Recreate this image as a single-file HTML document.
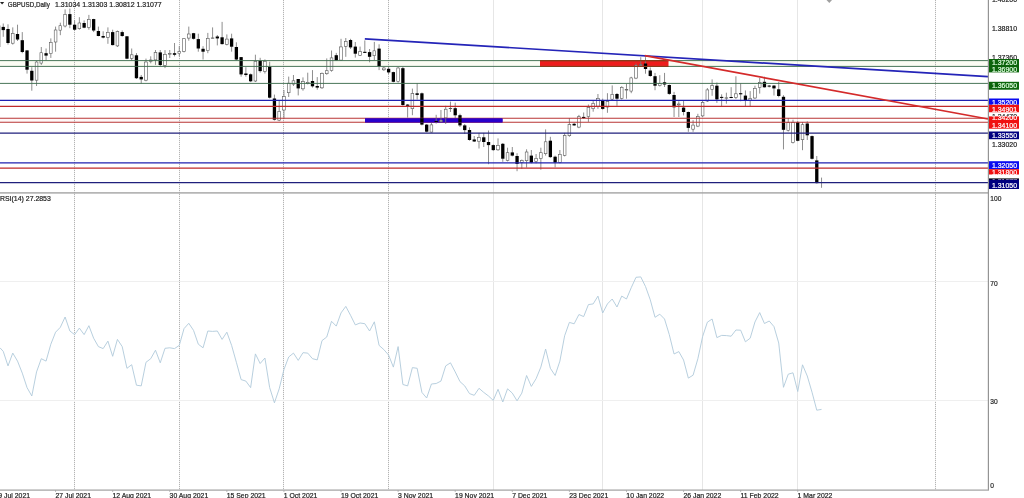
<!DOCTYPE html><html><head><meta charset="utf-8"><style>html,body{margin:0;padding:0;background:#fff;width:1024px;height:498px;overflow:hidden}svg{display:block;will-change:transform}text{font-family:"Liberation Sans",sans-serif}</style></head><body>
<div id="wrap">
<svg width="1024" height="498" viewBox="0 0 1024 498">
<rect width="1024" height="498" fill="#fff"/>
<rect x="0" y="61" width="988" height="5" fill="#fbfcf3"/>
<rect x="0" y="118.5" width="365" height="3.5" fill="#fef7f7"/>
<line x1="74.5" y1="0" x2="74.5" y2="490" stroke="#b4b4b4" stroke-width="1" stroke-dasharray="1.2 0.8"/>
<line x1="179.5" y1="0" x2="179.5" y2="490" stroke="#b4b4b4" stroke-width="1" stroke-dasharray="1.2 0.8"/>
<line x1="283.5" y1="0" x2="283.5" y2="490" stroke="#b4b4b4" stroke-width="1" stroke-dasharray="1.2 0.8"/>
<line x1="388.5" y1="0" x2="388.5" y2="490" stroke="#b4b4b4" stroke-width="1" stroke-dasharray="1.2 0.8"/>
<line x1="493.5" y1="0" x2="493.5" y2="490" stroke="#e6e6e6" stroke-width="1"/>
<line x1="602.5" y1="0" x2="602.5" y2="490" stroke="#e6e6e6" stroke-width="1"/>
<line x1="702.5" y1="0" x2="702.5" y2="490" stroke="#e6e6e6" stroke-width="1"/>
<line x1="797.5" y1="0" x2="797.5" y2="490" stroke="#e6e6e6" stroke-width="1"/>
<line x1="935.5" y1="0" x2="935.5" y2="490" stroke="#b4b4b4" stroke-width="1" stroke-dasharray="1.2 0.8"/>
<line x1="0" y1="281.5" x2="988" y2="281.5" stroke="#efefef" stroke-width="1"/>
<line x1="0" y1="400.5" x2="988" y2="400.5" stroke="#efefef" stroke-width="1"/>
<rect x="540" y="60.6" width="128.5" height="5.8" fill="#ee1c1c"/>
<rect x="365" y="118.3" width="137.5" height="4.2" fill="#2800cc"/>
<g>
<line x1="0.4" y1="25.5" x2="0.4" y2="47" stroke="#bbb" stroke-width="0.9"/>
<line x1="3.25" y1="23.5" x2="3.25" y2="36.8" stroke="#7a7a7a" stroke-width="0.85"/>
<rect x="1.60" y="26.9" width="3.3" height="3.20" fill="#000"/>
<line x1="8.01" y1="24.3" x2="8.01" y2="44.6" stroke="#7a7a7a" stroke-width="0.85"/>
<rect x="6.36" y="29.0" width="3.3" height="14.00" fill="#000"/>
<line x1="12.77" y1="27.4" x2="12.77" y2="44.6" stroke="#7a7a7a" stroke-width="0.85"/>
<rect x="11.42" y="33.50" width="2.7" height="9.70" fill="#fff" stroke="#585858" stroke-width="0.6"/>
<line x1="17.52" y1="24.7" x2="17.52" y2="41.0" stroke="#7a7a7a" stroke-width="0.85"/>
<rect x="15.87" y="34.0" width="3.3" height="5.50" fill="#000"/>
<line x1="22.28" y1="32.1" x2="22.28" y2="53.2" stroke="#7a7a7a" stroke-width="0.85"/>
<rect x="20.63" y="40.2" width="3.3" height="11.80" fill="#000"/>
<line x1="27.04" y1="50.1" x2="27.04" y2="73.6" stroke="#7a7a7a" stroke-width="0.85"/>
<rect x="25.39" y="50.4" width="3.3" height="19.30" fill="#000"/>
<line x1="31.80" y1="67.2" x2="31.80" y2="90.7" stroke="#7a7a7a" stroke-width="0.85"/>
<rect x="30.15" y="70.8" width="3.3" height="9.70" fill="#000"/>
<line x1="36.55" y1="61.0" x2="36.55" y2="86.0" stroke="#7a7a7a" stroke-width="0.85"/>
<rect x="35.20" y="62.00" width="2.7" height="18.20" fill="#fff" stroke="#585858" stroke-width="0.6"/>
<line x1="41.31" y1="47.0" x2="41.31" y2="64.9" stroke="#7a7a7a" stroke-width="0.85"/>
<rect x="39.96" y="52.70" width="2.7" height="10.40" fill="#fff" stroke="#585858" stroke-width="0.6"/>
<line x1="46.07" y1="48.5" x2="46.07" y2="60.3" stroke="#7a7a7a" stroke-width="0.85"/>
<rect x="44.42" y="53.2" width="3.3" height="2.40" fill="#000"/>
<line x1="50.83" y1="38.4" x2="50.83" y2="57.9" stroke="#7a7a7a" stroke-width="0.85"/>
<rect x="49.48" y="42.30" width="2.7" height="11.40" fill="#fff" stroke="#585858" stroke-width="0.6"/>
<line x1="55.58" y1="26.6" x2="55.58" y2="51.7" stroke="#7a7a7a" stroke-width="0.85"/>
<rect x="54.23" y="30.00" width="2.7" height="12.00" fill="#fff" stroke="#585858" stroke-width="0.6"/>
<line x1="60.34" y1="22.7" x2="60.34" y2="35.2" stroke="#7a7a7a" stroke-width="0.85"/>
<rect x="58.99" y="25.70" width="2.7" height="4.50" fill="#fff" stroke="#585858" stroke-width="0.6"/>
<line x1="65.10" y1="9.4" x2="65.10" y2="27.4" stroke="#7a7a7a" stroke-width="0.85"/>
<rect x="63.75" y="14.40" width="2.7" height="11.60" fill="#fff" stroke="#585858" stroke-width="0.6"/>
<line x1="69.86" y1="8.6" x2="69.86" y2="28.2" stroke="#7a7a7a" stroke-width="0.85"/>
<rect x="68.20" y="14.1" width="3.3" height="10.60" fill="#000"/>
<line x1="74.61" y1="20.4" x2="74.61" y2="30.5" stroke="#7a7a7a" stroke-width="0.85"/>
<rect x="72.96" y="24.7" width="3.3" height="5.00" fill="#000"/>
<line x1="79.37" y1="17.2" x2="79.37" y2="29.7" stroke="#7a7a7a" stroke-width="0.85"/>
<rect x="78.02" y="23.00" width="2.7" height="5.70" fill="#fff" stroke="#585858" stroke-width="0.6"/>
<line x1="84.13" y1="20.4" x2="84.13" y2="28.2" stroke="#7a7a7a" stroke-width="0.85"/>
<rect x="82.48" y="23.0" width="3.3" height="4.70" fill="#000"/>
<line x1="88.89" y1="14.9" x2="88.89" y2="29.7" stroke="#7a7a7a" stroke-width="0.85"/>
<rect x="87.54" y="19.40" width="2.7" height="8.20" fill="#fff" stroke="#585858" stroke-width="0.6"/>
<line x1="93.64" y1="18.8" x2="93.64" y2="32.1" stroke="#7a7a7a" stroke-width="0.85"/>
<rect x="91.99" y="19.1" width="3.3" height="11.40" fill="#000"/>
<line x1="98.40" y1="26.6" x2="98.40" y2="36.3" stroke="#7a7a7a" stroke-width="0.85"/>
<rect x="96.75" y="31.0" width="3.3" height="5.00" fill="#000"/>
<line x1="103.16" y1="31.3" x2="103.16" y2="38.4" stroke="#7a7a7a" stroke-width="0.85"/>
<rect x="101.51" y="36.0" width="3.3" height="1.60" fill="#000"/>
<line x1="107.92" y1="27.4" x2="107.92" y2="43.8" stroke="#7a7a7a" stroke-width="0.85"/>
<rect x="106.57" y="32.40" width="2.7" height="4.90" fill="#fff" stroke="#585858" stroke-width="0.6"/>
<line x1="112.67" y1="29.7" x2="112.67" y2="45.4" stroke="#7a7a7a" stroke-width="0.85"/>
<rect x="111.02" y="32.1" width="3.3" height="13.00" fill="#000"/>
<line x1="117.43" y1="30.5" x2="117.43" y2="47.0" stroke="#7a7a7a" stroke-width="0.85"/>
<rect x="116.08" y="31.60" width="2.7" height="14.30" fill="#fff" stroke="#585858" stroke-width="0.6"/>
<line x1="122.19" y1="30.5" x2="122.19" y2="36.8" stroke="#7a7a7a" stroke-width="0.85"/>
<rect x="120.54" y="32.1" width="3.3" height="3.90" fill="#000"/>
<line x1="126.95" y1="36.0" x2="126.95" y2="59.2" stroke="#7a7a7a" stroke-width="0.85"/>
<rect x="125.30" y="36.3" width="3.3" height="22.40" fill="#000"/>
<line x1="131.70" y1="48.5" x2="131.70" y2="60.3" stroke="#7a7a7a" stroke-width="0.85"/>
<rect x="130.35" y="54.80" width="2.7" height="3.60" fill="#fff" stroke="#585858" stroke-width="0.6"/>
<line x1="136.46" y1="53.1" x2="136.46" y2="79.0" stroke="#7a7a7a" stroke-width="0.85"/>
<rect x="134.81" y="55.3" width="3.3" height="22.90" fill="#000"/>
<line x1="141.22" y1="75.0" x2="141.22" y2="83.7" stroke="#7a7a7a" stroke-width="0.85"/>
<rect x="139.57" y="76.9" width="3.3" height="2.50" fill="#000"/>
<line x1="145.98" y1="58.6" x2="145.98" y2="81.3" stroke="#7a7a7a" stroke-width="0.85"/>
<rect x="144.63" y="62.00" width="2.7" height="18.20" fill="#fff" stroke="#585858" stroke-width="0.6"/>
<line x1="150.73" y1="56.3" x2="150.73" y2="63.3" stroke="#7a7a7a" stroke-width="0.85"/>
<rect x="149.38" y="60.00" width="2.7" height="1.40" fill="#fff" stroke="#585858" stroke-width="0.6"/>
<line x1="155.49" y1="50.0" x2="155.49" y2="64.9" stroke="#7a7a7a" stroke-width="0.85"/>
<rect x="154.14" y="52.50" width="2.7" height="7.40" fill="#fff" stroke="#585858" stroke-width="0.6"/>
<line x1="160.25" y1="50.0" x2="160.25" y2="66.0" stroke="#7a7a7a" stroke-width="0.85"/>
<rect x="158.60" y="52.4" width="3.3" height="12.60" fill="#000"/>
<line x1="165.00" y1="50.1" x2="165.00" y2="68.1" stroke="#7a7a7a" stroke-width="0.85"/>
<rect x="163.66" y="54.30" width="2.7" height="11.20" fill="#fff" stroke="#585858" stroke-width="0.6"/>
<line x1="169.76" y1="50.0" x2="169.76" y2="58.0" stroke="#7a7a7a" stroke-width="0.85"/>
<rect x="168.41" y="53.50" width="2.7" height="0.70" fill="#fff" stroke="#585858" stroke-width="0.6"/>
<line x1="174.52" y1="43.0" x2="174.52" y2="56.4" stroke="#7a7a7a" stroke-width="0.85"/>
<rect x="172.87" y="53.2" width="3.3" height="1.60" fill="#000"/>
<line x1="179.28" y1="46.2" x2="179.28" y2="56.4" stroke="#7a7a7a" stroke-width="0.85"/>
<rect x="177.93" y="51.60" width="2.7" height="2.10" fill="#fff" stroke="#585858" stroke-width="0.6"/>
<line x1="184.04" y1="38.4" x2="184.04" y2="52.4" stroke="#7a7a7a" stroke-width="0.85"/>
<rect x="182.69" y="38.70" width="2.7" height="12.70" fill="#fff" stroke="#585858" stroke-width="0.6"/>
<line x1="188.79" y1="26.6" x2="188.79" y2="40.7" stroke="#7a7a7a" stroke-width="0.85"/>
<rect x="187.44" y="34.00" width="2.7" height="4.10" fill="#fff" stroke="#585858" stroke-width="0.6"/>
<line x1="193.55" y1="32.9" x2="193.55" y2="39.5" stroke="#7a7a7a" stroke-width="0.85"/>
<rect x="191.90" y="33.2" width="3.3" height="5.60" fill="#000"/>
<line x1="198.31" y1="33.7" x2="198.31" y2="51.7" stroke="#7a7a7a" stroke-width="0.85"/>
<rect x="196.66" y="39.1" width="3.3" height="9.40" fill="#000"/>
<line x1="203.06" y1="46.2" x2="203.06" y2="59.5" stroke="#7a7a7a" stroke-width="0.85"/>
<rect x="201.41" y="48.8" width="3.3" height="2.90" fill="#000"/>
<line x1="207.82" y1="32.9" x2="207.82" y2="53.2" stroke="#7a7a7a" stroke-width="0.85"/>
<rect x="206.47" y="38.30" width="2.7" height="12.30" fill="#fff" stroke="#585858" stroke-width="0.6"/>
<line x1="212.58" y1="27.4" x2="212.58" y2="38.8" stroke="#7a7a7a" stroke-width="0.85"/>
<rect x="211.23" y="37.90" width="2.7" height="0.60" fill="#fff" stroke="#585858" stroke-width="0.6"/>
<line x1="217.34" y1="35.0" x2="217.34" y2="45.4" stroke="#7a7a7a" stroke-width="0.85"/>
<rect x="215.69" y="36.5" width="3.3" height="1.90" fill="#000"/>
<line x1="222.10" y1="21.9" x2="222.10" y2="44.6" stroke="#7a7a7a" stroke-width="0.85"/>
<rect x="220.45" y="37.3" width="3.3" height="6.80" fill="#000"/>
<line x1="226.85" y1="34.4" x2="226.85" y2="45.4" stroke="#7a7a7a" stroke-width="0.85"/>
<rect x="225.50" y="39.10" width="2.7" height="5.20" fill="#fff" stroke="#585858" stroke-width="0.6"/>
<line x1="231.61" y1="33.7" x2="231.61" y2="51.7" stroke="#7a7a7a" stroke-width="0.85"/>
<rect x="229.96" y="38.4" width="3.3" height="8.30" fill="#000"/>
<line x1="236.37" y1="42.3" x2="236.37" y2="60.3" stroke="#7a7a7a" stroke-width="0.85"/>
<rect x="234.72" y="47.0" width="3.3" height="12.50" fill="#000"/>
<line x1="241.12" y1="57.0" x2="241.12" y2="76.7" stroke="#7a7a7a" stroke-width="0.85"/>
<rect x="239.47" y="57.1" width="3.3" height="17.30" fill="#000"/>
<line x1="245.88" y1="67.2" x2="245.88" y2="76.7" stroke="#7a7a7a" stroke-width="0.85"/>
<rect x="244.23" y="73.5" width="3.3" height="1.50" fill="#000"/>
<line x1="250.64" y1="73.5" x2="250.64" y2="82.1" stroke="#7a7a7a" stroke-width="0.85"/>
<rect x="248.99" y="74.3" width="3.3" height="7.00" fill="#000"/>
<line x1="255.40" y1="54.7" x2="255.40" y2="82.0" stroke="#7a7a7a" stroke-width="0.85"/>
<rect x="254.05" y="61.30" width="2.7" height="19.70" fill="#fff" stroke="#585858" stroke-width="0.6"/>
<line x1="260.16" y1="57.8" x2="260.16" y2="72.7" stroke="#7a7a7a" stroke-width="0.85"/>
<rect x="258.51" y="61.0" width="3.3" height="10.10" fill="#000"/>
<line x1="264.91" y1="59.4" x2="264.91" y2="73.5" stroke="#7a7a7a" stroke-width="0.85"/>
<rect x="263.56" y="61.30" width="2.7" height="10.30" fill="#fff" stroke="#585858" stroke-width="0.6"/>
<line x1="269.67" y1="61.7" x2="269.67" y2="98.5" stroke="#7a7a7a" stroke-width="0.85"/>
<rect x="268.02" y="66.9" width="3.3" height="30.80" fill="#000"/>
<line x1="274.43" y1="94.6" x2="274.43" y2="120.5" stroke="#7a7a7a" stroke-width="0.85"/>
<rect x="272.78" y="98.5" width="3.3" height="21.20" fill="#000"/>
<line x1="279.19" y1="100.0" x2="279.19" y2="121.2" stroke="#7a7a7a" stroke-width="0.85"/>
<rect x="277.83" y="111.30" width="2.7" height="8.90" fill="#fff" stroke="#585858" stroke-width="0.6"/>
<line x1="283.94" y1="90.0" x2="283.94" y2="118.9" stroke="#7a7a7a" stroke-width="0.85"/>
<rect x="282.59" y="96.50" width="2.7" height="13.50" fill="#fff" stroke="#585858" stroke-width="0.6"/>
<line x1="288.70" y1="76.6" x2="288.70" y2="97.0" stroke="#7a7a7a" stroke-width="0.85"/>
<rect x="287.35" y="83.20" width="2.7" height="9.50" fill="#fff" stroke="#585858" stroke-width="0.6"/>
<line x1="293.46" y1="75.0" x2="293.46" y2="86.0" stroke="#7a7a7a" stroke-width="0.85"/>
<rect x="292.11" y="80.80" width="2.7" height="3.30" fill="#fff" stroke="#585858" stroke-width="0.6"/>
<line x1="298.22" y1="79.0" x2="298.22" y2="95.4" stroke="#7a7a7a" stroke-width="0.85"/>
<rect x="296.57" y="79.0" width="3.3" height="9.40" fill="#000"/>
<line x1="302.97" y1="77.4" x2="302.97" y2="90.7" stroke="#7a7a7a" stroke-width="0.85"/>
<rect x="301.62" y="81.60" width="2.7" height="7.20" fill="#fff" stroke="#585858" stroke-width="0.6"/>
<line x1="307.73" y1="72.7" x2="307.73" y2="84.4" stroke="#7a7a7a" stroke-width="0.85"/>
<rect x="306.38" y="82.30" width="2.7" height="1.10" fill="#fff" stroke="#585858" stroke-width="0.6"/>
<line x1="312.49" y1="70.1" x2="312.49" y2="87.6" stroke="#7a7a7a" stroke-width="0.85"/>
<rect x="310.84" y="81.0" width="3.3" height="5.30" fill="#000"/>
<line x1="317.25" y1="77.1" x2="317.25" y2="89.7" stroke="#7a7a7a" stroke-width="0.85"/>
<rect x="315.60" y="86.0" width="3.3" height="1.60" fill="#000"/>
<line x1="322.00" y1="72.5" x2="322.00" y2="89.0" stroke="#7a7a7a" stroke-width="0.85"/>
<rect x="320.65" y="73.50" width="2.7" height="14.30" fill="#fff" stroke="#585858" stroke-width="0.6"/>
<line x1="326.76" y1="58.4" x2="326.76" y2="74.8" stroke="#7a7a7a" stroke-width="0.85"/>
<rect x="325.41" y="70.70" width="2.7" height="3.00" fill="#fff" stroke="#585858" stroke-width="0.6"/>
<line x1="331.52" y1="50.5" x2="331.52" y2="71.7" stroke="#7a7a7a" stroke-width="0.85"/>
<rect x="330.17" y="57.90" width="2.7" height="12.70" fill="#fff" stroke="#585858" stroke-width="0.6"/>
<line x1="336.28" y1="52.9" x2="336.28" y2="60.7" stroke="#7a7a7a" stroke-width="0.85"/>
<rect x="334.63" y="55.2" width="3.3" height="5.20" fill="#000"/>
<line x1="341.03" y1="38.8" x2="341.03" y2="60.7" stroke="#7a7a7a" stroke-width="0.85"/>
<rect x="339.68" y="46.90" width="2.7" height="13.20" fill="#fff" stroke="#585858" stroke-width="0.6"/>
<line x1="345.79" y1="38.0" x2="345.79" y2="56.8" stroke="#7a7a7a" stroke-width="0.85"/>
<rect x="344.44" y="41.40" width="2.7" height="4.90" fill="#fff" stroke="#585858" stroke-width="0.6"/>
<line x1="350.55" y1="38.8" x2="350.55" y2="49.0" stroke="#7a7a7a" stroke-width="0.85"/>
<rect x="348.90" y="40.0" width="3.3" height="7.40" fill="#000"/>
<line x1="355.31" y1="42.0" x2="355.31" y2="57.6" stroke="#7a7a7a" stroke-width="0.85"/>
<rect x="353.66" y="46.6" width="3.3" height="7.10" fill="#000"/>
<line x1="360.06" y1="46.6" x2="360.06" y2="56.0" stroke="#7a7a7a" stroke-width="0.85"/>
<rect x="358.71" y="51.60" width="2.7" height="3.80" fill="#fff" stroke="#585858" stroke-width="0.6"/>
<line x1="364.82" y1="40.4" x2="364.82" y2="52.9" stroke="#7a7a7a" stroke-width="0.85"/>
<rect x="363.17" y="51.8" width="3.3" height="1.10" fill="#000"/>
<line x1="369.58" y1="49.0" x2="369.58" y2="62.3" stroke="#7a7a7a" stroke-width="0.85"/>
<rect x="367.93" y="52.1" width="3.3" height="4.70" fill="#000"/>
<line x1="374.34" y1="41.9" x2="374.34" y2="60.0" stroke="#7a7a7a" stroke-width="0.85"/>
<rect x="372.99" y="50.80" width="2.7" height="4.90" fill="#fff" stroke="#585858" stroke-width="0.6"/>
<line x1="379.09" y1="44.3" x2="379.09" y2="70.1" stroke="#7a7a7a" stroke-width="0.85"/>
<rect x="377.44" y="48.6" width="3.3" height="17.60" fill="#000"/>
<line x1="383.85" y1="67.0" x2="383.85" y2="70.9" stroke="#7a7a7a" stroke-width="0.85"/>
<rect x="382.50" y="68.00" width="2.7" height="1.80" fill="#fff" stroke="#585858" stroke-width="0.6"/>
<line x1="388.61" y1="67.0" x2="388.61" y2="74.0" stroke="#7a7a7a" stroke-width="0.85"/>
<rect x="386.96" y="68.8" width="3.3" height="3.60" fill="#000"/>
<line x1="393.37" y1="71.7" x2="393.37" y2="82.3" stroke="#7a7a7a" stroke-width="0.85"/>
<rect x="391.72" y="72.1" width="3.3" height="9.70" fill="#000"/>
<line x1="398.12" y1="67.0" x2="398.12" y2="82.6" stroke="#7a7a7a" stroke-width="0.85"/>
<rect x="396.77" y="68.00" width="2.7" height="13.50" fill="#fff" stroke="#585858" stroke-width="0.6"/>
<line x1="402.88" y1="67.0" x2="402.88" y2="105.8" stroke="#7a7a7a" stroke-width="0.85"/>
<rect x="401.23" y="68.2" width="3.3" height="36.80" fill="#000"/>
<line x1="407.64" y1="104.0" x2="407.64" y2="117.6" stroke="#7a7a7a" stroke-width="0.85"/>
<rect x="405.99" y="104.6" width="3.3" height="1.20" fill="#000"/>
<line x1="412.40" y1="88.6" x2="412.40" y2="115.2" stroke="#7a7a7a" stroke-width="0.85"/>
<rect x="411.05" y="93.60" width="2.7" height="15.10" fill="#fff" stroke="#585858" stroke-width="0.6"/>
<line x1="417.15" y1="83.1" x2="417.15" y2="99.6" stroke="#7a7a7a" stroke-width="0.85"/>
<rect x="415.50" y="93.3" width="3.3" height="1.60" fill="#000"/>
<line x1="421.91" y1="92.5" x2="421.91" y2="125.4" stroke="#7a7a7a" stroke-width="0.85"/>
<rect x="420.26" y="93.3" width="3.3" height="31.30" fill="#000"/>
<line x1="426.67" y1="124.0" x2="426.67" y2="132.4" stroke="#7a7a7a" stroke-width="0.85"/>
<rect x="425.02" y="124.6" width="3.3" height="7.10" fill="#000"/>
<line x1="431.43" y1="123.0" x2="431.43" y2="132.6" stroke="#7a7a7a" stroke-width="0.85"/>
<rect x="430.07" y="124.90" width="2.7" height="7.20" fill="#fff" stroke="#585858" stroke-width="0.6"/>
<line x1="436.18" y1="114.8" x2="436.18" y2="123.6" stroke="#7a7a7a" stroke-width="0.85"/>
<rect x="434.53" y="121.0" width="3.3" height="1.00" fill="#000"/>
<line x1="440.94" y1="110.0" x2="440.94" y2="122.5" stroke="#7a7a7a" stroke-width="0.85"/>
<rect x="439.59" y="120.20" width="2.7" height="1.50" fill="#fff" stroke="#585858" stroke-width="0.6"/>
<line x1="445.70" y1="105.8" x2="445.70" y2="124.0" stroke="#7a7a7a" stroke-width="0.85"/>
<rect x="444.35" y="109.20" width="2.7" height="8.70" fill="#fff" stroke="#585858" stroke-width="0.6"/>
<line x1="450.46" y1="101.6" x2="450.46" y2="112.0" stroke="#7a7a7a" stroke-width="0.85"/>
<rect x="449.11" y="108.30" width="2.7" height="0.40" fill="#fff" stroke="#585858" stroke-width="0.6"/>
<line x1="455.21" y1="102.7" x2="455.21" y2="118.0" stroke="#7a7a7a" stroke-width="0.85"/>
<rect x="453.56" y="108.2" width="3.3" height="7.10" fill="#000"/>
<line x1="459.97" y1="113.7" x2="459.97" y2="127.0" stroke="#7a7a7a" stroke-width="0.85"/>
<rect x="458.32" y="115.2" width="3.3" height="10.20" fill="#000"/>
<line x1="464.73" y1="124.0" x2="464.73" y2="134.0" stroke="#7a7a7a" stroke-width="0.85"/>
<rect x="463.08" y="125.4" width="3.3" height="4.70" fill="#000"/>
<line x1="469.49" y1="127.4" x2="469.49" y2="140.7" stroke="#7a7a7a" stroke-width="0.85"/>
<rect x="467.84" y="130.0" width="3.3" height="10.00" fill="#000"/>
<line x1="474.24" y1="136.0" x2="474.24" y2="142.0" stroke="#7a7a7a" stroke-width="0.85"/>
<rect x="472.59" y="139.5" width="3.3" height="2.00" fill="#000"/>
<line x1="479.00" y1="132.9" x2="479.00" y2="148.5" stroke="#7a7a7a" stroke-width="0.85"/>
<rect x="477.65" y="137.60" width="2.7" height="3.60" fill="#fff" stroke="#585858" stroke-width="0.6"/>
<line x1="483.76" y1="132.9" x2="483.76" y2="147.0" stroke="#7a7a7a" stroke-width="0.85"/>
<rect x="482.11" y="137.3" width="3.3" height="4.70" fill="#000"/>
<line x1="488.52" y1="130.5" x2="488.52" y2="164.2" stroke="#7a7a7a" stroke-width="0.85"/>
<rect x="486.87" y="142.0" width="3.3" height="3.10" fill="#000"/>
<line x1="493.27" y1="144.5" x2="493.27" y2="150.9" stroke="#7a7a7a" stroke-width="0.85"/>
<rect x="491.62" y="145.1" width="3.3" height="5.00" fill="#000"/>
<line x1="498.03" y1="138.4" x2="498.03" y2="150.9" stroke="#7a7a7a" stroke-width="0.85"/>
<rect x="496.68" y="145.40" width="2.7" height="4.40" fill="#fff" stroke="#585858" stroke-width="0.6"/>
<line x1="502.79" y1="143.0" x2="502.79" y2="161.8" stroke="#7a7a7a" stroke-width="0.85"/>
<rect x="501.14" y="143.8" width="3.3" height="14.90" fill="#000"/>
<line x1="507.55" y1="147.7" x2="507.55" y2="161.4" stroke="#7a7a7a" stroke-width="0.85"/>
<rect x="506.19" y="152.70" width="2.7" height="7.70" fill="#fff" stroke="#585858" stroke-width="0.6"/>
<line x1="512.30" y1="147.0" x2="512.30" y2="156.4" stroke="#7a7a7a" stroke-width="0.85"/>
<rect x="510.65" y="152.4" width="3.3" height="3.20" fill="#000"/>
<line x1="517.06" y1="153.2" x2="517.06" y2="171.2" stroke="#7a7a7a" stroke-width="0.85"/>
<rect x="515.41" y="156.0" width="3.3" height="7.90" fill="#000"/>
<line x1="521.82" y1="159.5" x2="521.82" y2="168.9" stroke="#7a7a7a" stroke-width="0.85"/>
<rect x="520.47" y="160.60" width="2.7" height="1.70" fill="#fff" stroke="#585858" stroke-width="0.6"/>
<line x1="526.58" y1="149.3" x2="526.58" y2="167.6" stroke="#7a7a7a" stroke-width="0.85"/>
<rect x="525.23" y="152.00" width="2.7" height="8.70" fill="#fff" stroke="#585858" stroke-width="0.6"/>
<line x1="531.33" y1="150.0" x2="531.33" y2="163.4" stroke="#7a7a7a" stroke-width="0.85"/>
<rect x="529.68" y="155.6" width="3.3" height="7.00" fill="#000"/>
<line x1="536.09" y1="154.0" x2="536.09" y2="163.4" stroke="#7a7a7a" stroke-width="0.85"/>
<rect x="534.74" y="158.30" width="2.7" height="3.20" fill="#fff" stroke="#585858" stroke-width="0.6"/>
<line x1="540.85" y1="147.7" x2="540.85" y2="169.7" stroke="#7a7a7a" stroke-width="0.85"/>
<rect x="539.50" y="152.70" width="2.7" height="5.70" fill="#fff" stroke="#585858" stroke-width="0.6"/>
<line x1="545.61" y1="129.4" x2="545.61" y2="155.6" stroke="#7a7a7a" stroke-width="0.85"/>
<rect x="544.25" y="141.80" width="2.7" height="11.90" fill="#fff" stroke="#585858" stroke-width="0.6"/>
<line x1="550.36" y1="136.8" x2="550.36" y2="157.9" stroke="#7a7a7a" stroke-width="0.85"/>
<rect x="548.71" y="140.7" width="3.3" height="16.40" fill="#000"/>
<line x1="555.12" y1="155.6" x2="555.12" y2="167.3" stroke="#7a7a7a" stroke-width="0.85"/>
<rect x="553.47" y="156.7" width="3.3" height="5.90" fill="#000"/>
<line x1="559.88" y1="150.0" x2="559.88" y2="163.4" stroke="#7a7a7a" stroke-width="0.85"/>
<rect x="558.53" y="154.30" width="2.7" height="8.00" fill="#fff" stroke="#585858" stroke-width="0.6"/>
<line x1="564.63" y1="132.9" x2="564.63" y2="156.4" stroke="#7a7a7a" stroke-width="0.85"/>
<rect x="563.28" y="135.50" width="2.7" height="19.80" fill="#fff" stroke="#585858" stroke-width="0.6"/>
<line x1="569.39" y1="118.0" x2="569.39" y2="136.8" stroke="#7a7a7a" stroke-width="0.85"/>
<rect x="568.04" y="124.60" width="2.7" height="11.10" fill="#fff" stroke="#585858" stroke-width="0.6"/>
<line x1="574.15" y1="123.0" x2="574.15" y2="125.8" stroke="#7a7a7a" stroke-width="0.85"/>
<rect x="572.50" y="123.8" width="3.3" height="1.60" fill="#000"/>
<line x1="578.91" y1="114.9" x2="578.91" y2="128.2" stroke="#7a7a7a" stroke-width="0.85"/>
<rect x="577.56" y="116.70" width="2.7" height="10.40" fill="#fff" stroke="#585858" stroke-width="0.6"/>
<line x1="583.67" y1="112.5" x2="583.67" y2="118.8" stroke="#7a7a7a" stroke-width="0.85"/>
<rect x="582.02" y="116.9" width="3.3" height="1.10" fill="#000"/>
<line x1="588.42" y1="104.5" x2="588.42" y2="121.9" stroke="#7a7a7a" stroke-width="0.85"/>
<rect x="587.07" y="107.30" width="2.7" height="9.30" fill="#fff" stroke="#585858" stroke-width="0.6"/>
<line x1="593.18" y1="101.0" x2="593.18" y2="111.7" stroke="#7a7a7a" stroke-width="0.85"/>
<rect x="591.83" y="103.30" width="2.7" height="5.40" fill="#fff" stroke="#585858" stroke-width="0.6"/>
<line x1="597.94" y1="94.0" x2="597.94" y2="108.9" stroke="#7a7a7a" stroke-width="0.85"/>
<rect x="596.59" y="98.50" width="2.7" height="7.70" fill="#fff" stroke="#585858" stroke-width="0.6"/>
<line x1="602.70" y1="98.7" x2="602.70" y2="109.7" stroke="#7a7a7a" stroke-width="0.85"/>
<rect x="601.05" y="100.3" width="3.3" height="8.60" fill="#000"/>
<line x1="607.45" y1="93.2" x2="607.45" y2="112.8" stroke="#7a7a7a" stroke-width="0.85"/>
<rect x="606.10" y="101.30" width="2.7" height="5.70" fill="#fff" stroke="#585858" stroke-width="0.6"/>
<line x1="612.21" y1="85.4" x2="612.21" y2="100.3" stroke="#7a7a7a" stroke-width="0.85"/>
<rect x="610.86" y="94.30" width="2.7" height="4.90" fill="#fff" stroke="#585858" stroke-width="0.6"/>
<line x1="616.97" y1="93.0" x2="616.97" y2="105.8" stroke="#7a7a7a" stroke-width="0.85"/>
<rect x="615.32" y="94.0" width="3.3" height="4.70" fill="#000"/>
<line x1="621.73" y1="86.2" x2="621.73" y2="99.5" stroke="#7a7a7a" stroke-width="0.85"/>
<rect x="620.38" y="87.30" width="2.7" height="11.10" fill="#fff" stroke="#585858" stroke-width="0.6"/>
<line x1="626.48" y1="83.8" x2="626.48" y2="98.7" stroke="#7a7a7a" stroke-width="0.85"/>
<rect x="625.13" y="89.60" width="2.7" height="0.50" fill="#fff" stroke="#585858" stroke-width="0.6"/>
<line x1="631.24" y1="76.8" x2="631.24" y2="93.2" stroke="#7a7a7a" stroke-width="0.85"/>
<rect x="629.89" y="77.90" width="2.7" height="13.20" fill="#fff" stroke="#585858" stroke-width="0.6"/>
<line x1="636.00" y1="63.5" x2="636.00" y2="79.1" stroke="#7a7a7a" stroke-width="0.85"/>
<rect x="634.65" y="65.30" width="2.7" height="12.80" fill="#fff" stroke="#585858" stroke-width="0.6"/>
<line x1="640.75" y1="57.2" x2="640.75" y2="66.6" stroke="#7a7a7a" stroke-width="0.85"/>
<rect x="639.40" y="64.60" width="2.7" height="0.90" fill="#fff" stroke="#585858" stroke-width="0.6"/>
<line x1="645.51" y1="57.2" x2="645.51" y2="73.7" stroke="#7a7a7a" stroke-width="0.85"/>
<rect x="643.86" y="63.5" width="3.3" height="5.50" fill="#000"/>
<line x1="650.27" y1="67.4" x2="650.27" y2="76.8" stroke="#7a7a7a" stroke-width="0.85"/>
<rect x="648.62" y="70.5" width="3.3" height="5.50" fill="#000"/>
<line x1="655.03" y1="72.9" x2="655.03" y2="90.2" stroke="#7a7a7a" stroke-width="0.85"/>
<rect x="653.38" y="76.2" width="3.3" height="9.50" fill="#000"/>
<line x1="659.79" y1="75.2" x2="659.79" y2="86.5" stroke="#7a7a7a" stroke-width="0.85"/>
<rect x="658.44" y="83.30" width="2.7" height="2.30" fill="#fff" stroke="#585858" stroke-width="0.6"/>
<line x1="664.54" y1="72.9" x2="664.54" y2="87.0" stroke="#7a7a7a" stroke-width="0.85"/>
<rect x="662.89" y="82.3" width="3.3" height="2.20" fill="#000"/>
<line x1="669.30" y1="84.5" x2="669.30" y2="94.8" stroke="#7a7a7a" stroke-width="0.85"/>
<rect x="667.65" y="85.0" width="3.3" height="8.90" fill="#000"/>
<line x1="674.06" y1="91.9" x2="674.06" y2="117.0" stroke="#7a7a7a" stroke-width="0.85"/>
<rect x="672.41" y="95.0" width="3.3" height="12.30" fill="#000"/>
<line x1="678.82" y1="101.3" x2="678.82" y2="117.0" stroke="#7a7a7a" stroke-width="0.85"/>
<rect x="677.47" y="104.00" width="2.7" height="0.90" fill="#fff" stroke="#585858" stroke-width="0.6"/>
<line x1="683.57" y1="100.5" x2="683.57" y2="115.4" stroke="#7a7a7a" stroke-width="0.85"/>
<rect x="681.92" y="107.6" width="3.3" height="4.40" fill="#000"/>
<line x1="688.33" y1="111.5" x2="688.33" y2="131.8" stroke="#7a7a7a" stroke-width="0.85"/>
<rect x="686.68" y="112.0" width="3.3" height="15.90" fill="#000"/>
<line x1="693.09" y1="120.1" x2="693.09" y2="131.8" stroke="#7a7a7a" stroke-width="0.85"/>
<rect x="691.74" y="125.10" width="2.7" height="4.10" fill="#fff" stroke="#585858" stroke-width="0.6"/>
<line x1="697.85" y1="113.8" x2="697.85" y2="127.1" stroke="#7a7a7a" stroke-width="0.85"/>
<rect x="696.50" y="116.50" width="2.7" height="9.60" fill="#fff" stroke="#585858" stroke-width="0.6"/>
<line x1="702.60" y1="100.5" x2="702.60" y2="117.0" stroke="#7a7a7a" stroke-width="0.85"/>
<rect x="701.25" y="102.40" width="2.7" height="13.50" fill="#fff" stroke="#585858" stroke-width="0.6"/>
<line x1="707.36" y1="88.0" x2="707.36" y2="102.0" stroke="#7a7a7a" stroke-width="0.85"/>
<rect x="706.01" y="89.90" width="2.7" height="11.10" fill="#fff" stroke="#585858" stroke-width="0.6"/>
<line x1="712.12" y1="79.4" x2="712.12" y2="95.8" stroke="#7a7a7a" stroke-width="0.85"/>
<rect x="710.77" y="85.60" width="2.7" height="3.70" fill="#fff" stroke="#585858" stroke-width="0.6"/>
<line x1="716.88" y1="82.5" x2="716.88" y2="102.9" stroke="#7a7a7a" stroke-width="0.85"/>
<rect x="715.23" y="85.7" width="3.3" height="13.70" fill="#000"/>
<line x1="721.63" y1="94.3" x2="721.63" y2="106.0" stroke="#7a7a7a" stroke-width="0.85"/>
<rect x="719.98" y="96.9" width="3.3" height="1.00" fill="#000"/>
<line x1="726.39" y1="92.7" x2="726.39" y2="103.7" stroke="#7a7a7a" stroke-width="0.85"/>
<rect x="725.04" y="97.80" width="2.7" height="0.40" fill="#fff" stroke="#585858" stroke-width="0.6"/>
<line x1="731.15" y1="87.2" x2="731.15" y2="98.2" stroke="#7a7a7a" stroke-width="0.85"/>
<rect x="729.50" y="97.0" width="3.3" height="1.00" fill="#000"/>
<line x1="735.91" y1="76.3" x2="735.91" y2="99.0" stroke="#7a7a7a" stroke-width="0.85"/>
<rect x="734.56" y="93.80" width="2.7" height="3.80" fill="#fff" stroke="#585858" stroke-width="0.6"/>
<line x1="740.66" y1="83.3" x2="740.66" y2="101.3" stroke="#7a7a7a" stroke-width="0.85"/>
<rect x="739.01" y="93.2" width="3.3" height="1.10" fill="#000"/>
<line x1="745.42" y1="90.4" x2="745.42" y2="106.0" stroke="#7a7a7a" stroke-width="0.85"/>
<rect x="743.77" y="95.6" width="3.3" height="4.40" fill="#000"/>
<line x1="750.18" y1="91.1" x2="750.18" y2="106.0" stroke="#7a7a7a" stroke-width="0.85"/>
<rect x="748.83" y="98.50" width="2.7" height="1.70" fill="#fff" stroke="#585858" stroke-width="0.6"/>
<line x1="754.94" y1="85.7" x2="754.94" y2="99.0" stroke="#7a7a7a" stroke-width="0.85"/>
<rect x="753.59" y="88.40" width="2.7" height="9.60" fill="#fff" stroke="#585858" stroke-width="0.6"/>
<line x1="759.69" y1="77.9" x2="759.69" y2="93.6" stroke="#7a7a7a" stroke-width="0.85"/>
<rect x="758.34" y="82.50" width="2.7" height="4.90" fill="#fff" stroke="#585858" stroke-width="0.6"/>
<line x1="764.45" y1="76.7" x2="764.45" y2="87.5" stroke="#7a7a7a" stroke-width="0.85"/>
<rect x="762.80" y="81.8" width="3.3" height="5.50" fill="#000"/>
<line x1="769.21" y1="85.0" x2="769.21" y2="87.5" stroke="#7a7a7a" stroke-width="0.85"/>
<rect x="767.56" y="85.6" width="3.3" height="1.00" fill="#000"/>
<line x1="773.97" y1="85.0" x2="773.97" y2="95.5" stroke="#7a7a7a" stroke-width="0.85"/>
<rect x="772.32" y="85.6" width="3.3" height="2.80" fill="#000"/>
<line x1="778.72" y1="81.9" x2="778.72" y2="97.3" stroke="#7a7a7a" stroke-width="0.85"/>
<rect x="777.07" y="89.3" width="3.3" height="6.70" fill="#000"/>
<line x1="783.48" y1="95.2" x2="783.48" y2="149.4" stroke="#7a7a7a" stroke-width="0.85"/>
<rect x="781.83" y="96.8" width="3.3" height="33.00" fill="#000"/>
<line x1="788.24" y1="118.0" x2="788.24" y2="131.5" stroke="#7a7a7a" stroke-width="0.85"/>
<rect x="786.89" y="122.60" width="2.7" height="7.70" fill="#fff" stroke="#585858" stroke-width="0.6"/>
<line x1="793.00" y1="119.7" x2="793.00" y2="143.5" stroke="#7a7a7a" stroke-width="0.85"/>
<rect x="791.64" y="122.50" width="2.7" height="20.10" fill="#fff" stroke="#585858" stroke-width="0.6"/>
<line x1="797.75" y1="121.0" x2="797.75" y2="141.3" stroke="#7a7a7a" stroke-width="0.85"/>
<rect x="796.10" y="122.2" width="3.3" height="18.60" fill="#000"/>
<line x1="802.51" y1="122.0" x2="802.51" y2="150.2" stroke="#7a7a7a" stroke-width="0.85"/>
<rect x="801.16" y="124.70" width="2.7" height="15.00" fill="#fff" stroke="#585858" stroke-width="0.6"/>
<line x1="807.27" y1="121.3" x2="807.27" y2="140.0" stroke="#7a7a7a" stroke-width="0.85"/>
<rect x="805.62" y="123.5" width="3.3" height="11.80" fill="#000"/>
<line x1="812.03" y1="135.5" x2="812.03" y2="159.5" stroke="#7a7a7a" stroke-width="0.85"/>
<rect x="810.38" y="136.1" width="3.3" height="22.70" fill="#000"/>
<line x1="816.78" y1="156.0" x2="816.78" y2="183.5" stroke="#7a7a7a" stroke-width="0.85"/>
<rect x="815.13" y="160.4" width="3.3" height="22.70" fill="#000"/>
<line x1="821.54" y1="177.6" x2="821.54" y2="187.8" stroke="#7a7a7a" stroke-width="0.85"/>
<rect x="819.89" y="182.0" width="3.3" height="1.00" fill="#000"/>
</g>
<line x1="0" y1="60.6" x2="988" y2="60.6" stroke="#3f6f50" stroke-width="0.95"/>
<line x1="0" y1="66.4" x2="988" y2="66.4" stroke="#3f6f50" stroke-width="0.95"/>
<line x1="0" y1="83.4" x2="988" y2="83.4" stroke="#3f6f50" stroke-width="0.95"/>
<line x1="0" y1="100.35" x2="988" y2="100.35" stroke="#2020b0" stroke-width="1.25"/>
<line x1="0" y1="106.4" x2="988" y2="106.4" stroke="#c02a2a" stroke-width="1.25"/>
<line x1="0" y1="118.2" x2="988" y2="118.2" stroke="#b83434" stroke-width="1.05"/>
<line x1="0" y1="122.3" x2="988" y2="122.3" stroke="#b83434" stroke-width="1.05"/>
<line x1="0" y1="133.1" x2="988" y2="133.1" stroke="#20207c" stroke-width="1.25"/>
<line x1="0" y1="162.8" x2="988" y2="162.8" stroke="#2020b0" stroke-width="1.25"/>
<line x1="0" y1="168.0" x2="988" y2="168.0" stroke="#c02a2a" stroke-width="1.25"/>
<line x1="0" y1="182.6" x2="988" y2="182.6" stroke="#20207c" stroke-width="1.25"/>
<line x1="540" y1="60.6" x2="668.5" y2="60.6" stroke="#8a3a1a" stroke-width="1.05"/>
<line x1="540" y1="66.4" x2="668.5" y2="66.4" stroke="#8a3a1a" stroke-width="1.05"/>
<rect x="365" y="118.3" width="137.5" height="4.2" fill="#2800cc"/>
<defs><clipPath id="pc"><rect x="365" y="118.3" width="137.5" height="4.2"/></clipPath></defs>
<g clip-path="url(#pc)"><line x1="383.85" y1="67.0" x2="383.85" y2="70.9" stroke="#7a7a7a" stroke-width="0.85"/><rect x="382.50" y="68.00" width="2.7" height="1.80" fill="#fff" stroke="#585858" stroke-width="0.6"/><line x1="388.61" y1="67.0" x2="388.61" y2="74.0" stroke="#7a7a7a" stroke-width="0.85"/><rect x="386.96" y="68.8" width="3.3" height="3.60" fill="#000"/><line x1="393.37" y1="71.7" x2="393.37" y2="82.3" stroke="#7a7a7a" stroke-width="0.85"/><rect x="391.72" y="72.1" width="3.3" height="9.70" fill="#000"/><line x1="398.12" y1="67.0" x2="398.12" y2="82.6" stroke="#7a7a7a" stroke-width="0.85"/><rect x="396.77" y="68.00" width="2.7" height="13.50" fill="#fff" stroke="#585858" stroke-width="0.6"/><line x1="402.88" y1="67.0" x2="402.88" y2="105.8" stroke="#7a7a7a" stroke-width="0.85"/><rect x="401.23" y="68.2" width="3.3" height="36.80" fill="#000"/><line x1="407.64" y1="104.0" x2="407.64" y2="117.6" stroke="#7a7a7a" stroke-width="0.85"/><rect x="405.99" y="104.6" width="3.3" height="1.20" fill="#000"/><line x1="412.40" y1="88.6" x2="412.40" y2="115.2" stroke="#7a7a7a" stroke-width="0.85"/><rect x="411.05" y="93.60" width="2.7" height="15.10" fill="#fff" stroke="#585858" stroke-width="0.6"/><line x1="417.15" y1="83.1" x2="417.15" y2="99.6" stroke="#7a7a7a" stroke-width="0.85"/><rect x="415.50" y="93.3" width="3.3" height="1.60" fill="#000"/><line x1="421.91" y1="92.5" x2="421.91" y2="125.4" stroke="#7a7a7a" stroke-width="0.85"/><rect x="420.26" y="93.3" width="3.3" height="31.30" fill="#000"/><line x1="426.67" y1="124.0" x2="426.67" y2="132.4" stroke="#7a7a7a" stroke-width="0.85"/><rect x="425.02" y="124.6" width="3.3" height="7.10" fill="#000"/><line x1="431.43" y1="123.0" x2="431.43" y2="132.6" stroke="#7a7a7a" stroke-width="0.85"/><rect x="430.07" y="124.90" width="2.7" height="7.20" fill="#fff" stroke="#585858" stroke-width="0.6"/><line x1="436.18" y1="114.8" x2="436.18" y2="123.6" stroke="#7a7a7a" stroke-width="0.85"/><rect x="434.53" y="121.0" width="3.3" height="1.00" fill="#000"/><line x1="440.94" y1="110.0" x2="440.94" y2="122.5" stroke="#7a7a7a" stroke-width="0.85"/><rect x="439.59" y="120.20" width="2.7" height="1.50" fill="#fff" stroke="#585858" stroke-width="0.6"/><line x1="445.70" y1="105.8" x2="445.70" y2="124.0" stroke="#7a7a7a" stroke-width="0.85"/><rect x="444.35" y="109.20" width="2.7" height="8.70" fill="#fff" stroke="#585858" stroke-width="0.6"/><line x1="450.46" y1="101.6" x2="450.46" y2="112.0" stroke="#7a7a7a" stroke-width="0.85"/><rect x="449.11" y="108.30" width="2.7" height="0.40" fill="#fff" stroke="#585858" stroke-width="0.6"/><line x1="455.21" y1="102.7" x2="455.21" y2="118.0" stroke="#7a7a7a" stroke-width="0.85"/><rect x="453.56" y="108.2" width="3.3" height="7.10" fill="#000"/><line x1="459.97" y1="113.7" x2="459.97" y2="127.0" stroke="#7a7a7a" stroke-width="0.85"/><rect x="458.32" y="115.2" width="3.3" height="10.20" fill="#000"/><line x1="464.73" y1="124.0" x2="464.73" y2="134.0" stroke="#7a7a7a" stroke-width="0.85"/><rect x="463.08" y="125.4" width="3.3" height="4.70" fill="#000"/><line x1="469.49" y1="127.4" x2="469.49" y2="140.7" stroke="#7a7a7a" stroke-width="0.85"/><rect x="467.84" y="130.0" width="3.3" height="10.00" fill="#000"/><line x1="474.24" y1="136.0" x2="474.24" y2="142.0" stroke="#7a7a7a" stroke-width="0.85"/><rect x="472.59" y="139.5" width="3.3" height="2.00" fill="#000"/></g>
<line x1="364.8" y1="38.8" x2="988" y2="76.7" stroke="#2424b8" stroke-width="1.7"/>
<line x1="644.7" y1="55.7" x2="988" y2="119" stroke="#d42a2a" stroke-width="1.7"/>
<polyline points="0.00,347.8 3.25,351.4 8.01,365.9 12.77,353.1 17.52,361.1 22.28,373.1 27.04,387.6 31.80,396 36.55,371.9 41.31,358.7 46.07,361.1 50.83,344.2 55.58,332.2 60.34,327.3 65.10,317 69.86,331 74.61,334.6 79.37,328.1 84.13,334.6 88.89,325.7 93.64,338.2 98.40,346.6 103.16,348.6 107.92,341.1 112.67,356.3 117.43,339.4 122.19,346.6 126.95,368.3 131.70,364.7 136.46,385.2 141.22,385.9 145.98,362.3 150.73,358.7 155.49,350.2 160.25,362.8 165.00,348.3 169.76,347.8 174.52,348.6 179.28,345.4 184.04,328.6 188.79,323.3 193.55,330.4 198.31,344.2 203.06,347.8 207.82,331 212.58,331.4 217.34,331 222.10,339.4 226.85,332.2 231.61,345.4 236.37,362.3 241.12,379.6 245.88,381.1 250.64,387.6 255.40,353.9 260.16,363.5 264.91,358 269.67,387.6 274.43,402.8 279.19,388.8 283.94,369.5 288.70,357 293.46,353.1 298.22,360.4 302.97,352.7 307.73,353.1 312.49,358.7 317.25,359.9 322.00,340.6 326.76,337 331.52,321.3 336.28,326.1 341.03,312.9 345.79,306.4 350.55,315.3 355.31,324.9 360.06,323 364.82,323.7 369.58,331 374.34,321.8 379.09,345.4 383.85,349.6 388.61,355.1 393.37,367.1 398.12,346.6 402.88,384.5 407.64,385.9 412.40,367.6 417.15,368.3 421.91,392.4 426.67,398 431.43,384 436.18,383.5 440.94,381.1 445.70,365.9 450.46,362.8 455.21,371.9 459.97,381.6 464.73,385.9 469.49,393.6 474.24,395.3 479.00,388.3 483.76,392.4 488.52,396 493.27,400.4 498.03,389.3 502.79,402 507.55,388.8 512.30,393.1 517.06,400.8 521.82,393.1 526.58,375.5 531.33,386.4 536.09,378.7 540.85,367.1 545.61,349 550.36,368.3 555.12,375.5 559.88,361.1 564.63,335.8 569.39,322.4 574.15,323.8 578.91,314.5 583.67,316.6 588.42,304.6 593.18,303.9 597.94,296.1 602.70,313 607.45,303.9 612.21,299 616.97,307 621.73,296.1 626.48,299 631.24,287.7 636.00,277.3 640.75,276.9 645.51,286.5 650.27,299.8 655.03,317.3 659.79,314.2 664.54,319 669.30,334.7 674.06,354 678.82,351.6 683.57,360 688.33,378.1 693.09,375.2 697.85,358.8 702.60,336.6 707.36,322.2 712.12,319 716.88,337.6 721.63,335.4 726.39,335.6 731.15,336.2 735.91,330 740.66,330.2 745.42,341.8 750.18,338.2 754.94,322 759.69,312.6 764.45,323.5 769.21,321 773.97,326.6 778.72,343 783.48,387.3 788.24,374.2 793.00,372.8 797.75,391.5 802.51,364.8 807.27,376 812.03,392.2 816.78,410.2 821.54,409.4" fill="none" stroke="#b0c9da" stroke-width="0.9" stroke-linejoin="round"/>
<rect x="0" y="192.2" width="988" height="1.4" fill="#a4a4a4"/>
<rect x="987.8" y="0" width="1.2" height="490" fill="#949494"/>
<rect x="0" y="489.5" width="989" height="1.2" fill="#a0a0a0"/>
<polygon points="826.5,0 832,0 829.3,3" fill="#a0a0a0"/>
<polygon points="0,2 4.2,2 2.1,4.4" fill="#222"/>
<text x="7.8" y="6.6" font-size="8.0" fill="#222" stroke="#222" stroke-width="0.22" text-anchor="start" textLength="42" lengthAdjust="spacingAndGlyphs">GBPUSD,Daily</text>
<text x="55" y="6.6" font-size="8.0" fill="#222" stroke="#222" stroke-width="0.22" text-anchor="start" textLength="106.7" lengthAdjust="spacingAndGlyphs">1.31034 1.31303 1.30812 1.31077</text>
<text x="0" y="201.3" font-size="8.0" fill="#222" stroke="#222" stroke-width="0.22" text-anchor="start" textLength="50.8" lengthAdjust="spacingAndGlyphs">RSI(14) 27.2853</text>
<text x="992" y="2.4" font-size="8.0" fill="#222" stroke="#222" stroke-width="0.22" text-anchor="start" textLength="25" lengthAdjust="spacingAndGlyphs">1.40200</text>
<text x="992" y="31.0" font-size="8.0" fill="#222" stroke="#222" stroke-width="0.22" text-anchor="start" textLength="25" lengthAdjust="spacingAndGlyphs">1.38810</text>
<text x="992" y="60.0" font-size="8.0" fill="#222" stroke="#222" stroke-width="0.22" text-anchor="start" textLength="25" lengthAdjust="spacingAndGlyphs">1.37360</text>
<text x="992" y="146.6" font-size="8.0" fill="#222" stroke="#222" stroke-width="0.22" text-anchor="start" textLength="25" lengthAdjust="spacingAndGlyphs">1.33020</text>
<rect x="989" y="59.0" width="30" height="13.40" fill="#0b640b"/>
<svg x="989" y="59.0" width="30" height="13.40" overflow="hidden"><g transform="translate(-989,-59.0)">
<text x="992" y="65.2" font-size="8.0" fill="#e0ffe0" stroke="#e0ffe0" stroke-width="0.22" text-anchor="start" textLength="25" lengthAdjust="spacingAndGlyphs">1.37200</text>
<text x="992" y="71.6" font-size="8.0" fill="#e0ffe0" stroke="#e0ffe0" stroke-width="0.22" text-anchor="start" textLength="25" lengthAdjust="spacingAndGlyphs">1.36900</text>
</g></svg>
<rect x="989" y="81.8" width="30" height="7.90" fill="#0b640b"/>
<svg x="989" y="81.8" width="30" height="7.90" overflow="hidden"><g transform="translate(-989,-81.8)">
<text x="992" y="88.4" font-size="8.0" fill="#e0ffe0" stroke="#e0ffe0" stroke-width="0.22" text-anchor="start" textLength="25" lengthAdjust="spacingAndGlyphs">1.36050</text>
</g></svg>
<rect x="989" y="98.5" width="30" height="6.30" fill="#0a0af0"/>
<svg x="989" y="98.5" width="30" height="6.30" overflow="hidden"><g transform="translate(-989,-98.5)">
<text x="992" y="105.4" font-size="8.0" fill="#fff" stroke="#fff" stroke-width="0.22" text-anchor="start" textLength="25" lengthAdjust="spacingAndGlyphs">1.35200</text>
</g></svg>
<rect x="989" y="104.8" width="30" height="7.70" fill="#f01010"/>
<svg x="989" y="104.8" width="30" height="7.70" overflow="hidden"><g transform="translate(-989,-104.8)">
<text x="992" y="111.6" font-size="8.0" fill="#fff" stroke="#fff" stroke-width="0.22" text-anchor="start" textLength="25" lengthAdjust="spacingAndGlyphs">1.34901</text>
</g></svg>
<rect x="989" y="112.5" width="30" height="3.90" fill="#fff"/>
<svg x="989" y="112.5" width="30" height="3.90" overflow="hidden"><g transform="translate(-989,-112.5)">
<text x="992" y="118.6" font-size="8.0" fill="#222" stroke="#222" stroke-width="0.22" text-anchor="start" textLength="25" lengthAdjust="spacingAndGlyphs">1.34470</text>
</g></svg>
<rect x="989" y="116.4" width="30" height="12.30" fill="#f01010"/>
<svg x="989" y="116.4" width="30" height="12.30" overflow="hidden"><g transform="translate(-989,-116.4)">
<text x="992" y="120.2" font-size="8.0" fill="#fff" stroke="#fff" stroke-width="0.22" text-anchor="start" textLength="25" lengthAdjust="spacingAndGlyphs">1.34200</text>
<text x="992" y="127.9" font-size="8.0" fill="#fff" stroke="#fff" stroke-width="0.22" text-anchor="start" textLength="25" lengthAdjust="spacingAndGlyphs">1.34100</text>
</g></svg>
<rect x="989" y="131.5" width="30" height="7.70" fill="#000080"/>
<svg x="989" y="131.5" width="30" height="7.70" overflow="hidden"><g transform="translate(-989,-131.5)">
<text x="992" y="138.4" font-size="8.0" fill="#fff" stroke="#fff" stroke-width="0.22" text-anchor="start" textLength="25" lengthAdjust="spacingAndGlyphs">1.33550</text>
</g></svg>
<rect x="989" y="161.2" width="30" height="8.00" fill="#0a0af0"/>
<svg x="989" y="161.2" width="30" height="8.00" overflow="hidden"><g transform="translate(-989,-161.2)">
<text x="992" y="168.4" font-size="8.0" fill="#fff" stroke="#fff" stroke-width="0.22" text-anchor="start" textLength="25" lengthAdjust="spacingAndGlyphs">1.32050</text>
</g></svg>
<rect x="989" y="169.2" width="30" height="5.30" fill="#f01010"/>
<svg x="989" y="169.2" width="30" height="5.30" overflow="hidden"><g transform="translate(-989,-169.2)">
<text x="992" y="175.4" font-size="8.0" fill="#fff" stroke="#fff" stroke-width="0.22" text-anchor="start" textLength="25" lengthAdjust="spacingAndGlyphs">1.31800</text>
</g></svg>
<rect x="989" y="178.4" width="30" height="2.60" fill="#000"/>
<svg x="989" y="178.4" width="30" height="2.60" overflow="hidden"><g transform="translate(-989,-178.4)">
<text x="992" y="183.6" font-size="8.0" fill="#fff" stroke="#fff" stroke-width="0.22" text-anchor="start" textLength="25" lengthAdjust="spacingAndGlyphs">1.31077</text>
</g></svg>
<rect x="989" y="179.6" width="30" height="9.40" fill="#000080"/>
<svg x="989" y="179.6" width="30" height="9.40" overflow="hidden"><g transform="translate(-989,-179.6)">
<text x="992" y="187.8" font-size="8.0" fill="#fff" stroke="#fff" stroke-width="0.22" text-anchor="start" textLength="25" lengthAdjust="spacingAndGlyphs">1.31050</text>
</g></svg>
<text transform="translate(990.3,200.7) scale(0.83,1)" x="0" y="0" font-size="8.0" fill="#222" stroke="#222" stroke-width="0.22" text-anchor="start" >100</text>
<text transform="translate(990.3,285.8) scale(0.83,1)" x="0" y="0" font-size="8.0" fill="#222" stroke="#222" stroke-width="0.22" text-anchor="start" >70</text>
<text transform="translate(990.3,403.6) scale(0.83,1)" x="0" y="0" font-size="8.0" fill="#222" stroke="#222" stroke-width="0.22" text-anchor="start" >30</text>
<text transform="translate(990.3,488.2) scale(0.83,1)" x="0" y="0" font-size="8.0" fill="#222" stroke="#222" stroke-width="0.22" text-anchor="start" >0</text>
<line x1="-1.5075000000000003" y1="490" x2="-1.5075000000000003" y2="492" stroke="#aaa" stroke-width="0.8"/>
<text transform="translate(-1.6599999999999682,497.8) scale(0.86,1)" x="0" y="0" font-size="8.0" fill="#222" stroke="#222" stroke-width="0.22" text-anchor="start" >9 Jul 2021</text>
<line x1="55.5825" y1="490" x2="55.5825" y2="492" stroke="#aaa" stroke-width="0.8"/>
<text transform="translate(55.42999999999995,497.8) scale(0.86,1)" x="0" y="0" font-size="8.0" fill="#222" stroke="#222" stroke-width="0.22" text-anchor="start" >27 Jul 2021</text>
<line x1="112.67250000000001" y1="490" x2="112.67250000000001" y2="492" stroke="#aaa" stroke-width="0.8"/>
<text transform="translate(112.51999999999998,497.8) scale(0.86,1)" x="0" y="0" font-size="8.0" fill="#222" stroke="#222" stroke-width="0.22" text-anchor="start" >12 Aug 2021</text>
<line x1="169.76250000000002" y1="490" x2="169.76250000000002" y2="492" stroke="#aaa" stroke-width="0.8"/>
<text transform="translate(169.61,497.8) scale(0.86,1)" x="0" y="0" font-size="8.0" fill="#222" stroke="#222" stroke-width="0.22" text-anchor="start" >30 Aug 2021</text>
<line x1="226.85250000000002" y1="490" x2="226.85250000000002" y2="492" stroke="#aaa" stroke-width="0.8"/>
<text transform="translate(226.69999999999993,497.8) scale(0.86,1)" x="0" y="0" font-size="8.0" fill="#222" stroke="#222" stroke-width="0.22" text-anchor="start" >15 Sep 2021</text>
<line x1="283.9425" y1="490" x2="283.9425" y2="492" stroke="#aaa" stroke-width="0.8"/>
<text transform="translate(283.78999999999996,497.8) scale(0.86,1)" x="0" y="0" font-size="8.0" fill="#222" stroke="#222" stroke-width="0.22" text-anchor="start" >1 Oct 2021</text>
<line x1="341.0325" y1="490" x2="341.0325" y2="492" stroke="#aaa" stroke-width="0.8"/>
<text transform="translate(340.88,497.8) scale(0.86,1)" x="0" y="0" font-size="8.0" fill="#222" stroke="#222" stroke-width="0.22" text-anchor="start" >19 Oct 2021</text>
<line x1="398.1225" y1="490" x2="398.1225" y2="492" stroke="#aaa" stroke-width="0.8"/>
<text transform="translate(397.97,497.8) scale(0.86,1)" x="0" y="0" font-size="8.0" fill="#222" stroke="#222" stroke-width="0.22" text-anchor="start" >3 Nov 2021</text>
<line x1="455.21250000000003" y1="490" x2="455.21250000000003" y2="492" stroke="#aaa" stroke-width="0.8"/>
<text transform="translate(455.06,497.8) scale(0.86,1)" x="0" y="0" font-size="8.0" fill="#222" stroke="#222" stroke-width="0.22" text-anchor="start" >19 Nov 2021</text>
<line x1="512.3025" y1="490" x2="512.3025" y2="492" stroke="#aaa" stroke-width="0.8"/>
<text transform="translate(512.15,497.8) scale(0.86,1)" x="0" y="0" font-size="8.0" fill="#222" stroke="#222" stroke-width="0.22" text-anchor="start" >7 Dec 2021</text>
<line x1="569.3925" y1="490" x2="569.3925" y2="492" stroke="#aaa" stroke-width="0.8"/>
<text transform="translate(569.24,497.8) scale(0.86,1)" x="0" y="0" font-size="8.0" fill="#222" stroke="#222" stroke-width="0.22" text-anchor="start" >23 Dec 2021</text>
<line x1="626.4825000000001" y1="490" x2="626.4825000000001" y2="492" stroke="#aaa" stroke-width="0.8"/>
<text transform="translate(626.33,497.8) scale(0.86,1)" x="0" y="0" font-size="8.0" fill="#222" stroke="#222" stroke-width="0.22" text-anchor="start" >10 Jan 2022</text>
<line x1="683.5725" y1="490" x2="683.5725" y2="492" stroke="#aaa" stroke-width="0.8"/>
<text transform="translate(683.4200000000001,497.8) scale(0.86,1)" x="0" y="0" font-size="8.0" fill="#222" stroke="#222" stroke-width="0.22" text-anchor="start" >26 Jan 2022</text>
<line x1="740.6625" y1="490" x2="740.6625" y2="492" stroke="#aaa" stroke-width="0.8"/>
<text transform="translate(740.51,497.8) scale(0.86,1)" x="0" y="0" font-size="8.0" fill="#222" stroke="#222" stroke-width="0.22" text-anchor="start" >11 Feb 2022</text>
<line x1="797.7525" y1="490" x2="797.7525" y2="492" stroke="#aaa" stroke-width="0.8"/>
<text transform="translate(797.6,497.8) scale(0.86,1)" x="0" y="0" font-size="8.0" fill="#222" stroke="#222" stroke-width="0.22" text-anchor="start" >1 Mar 2022</text>
</svg></div></body></html>
